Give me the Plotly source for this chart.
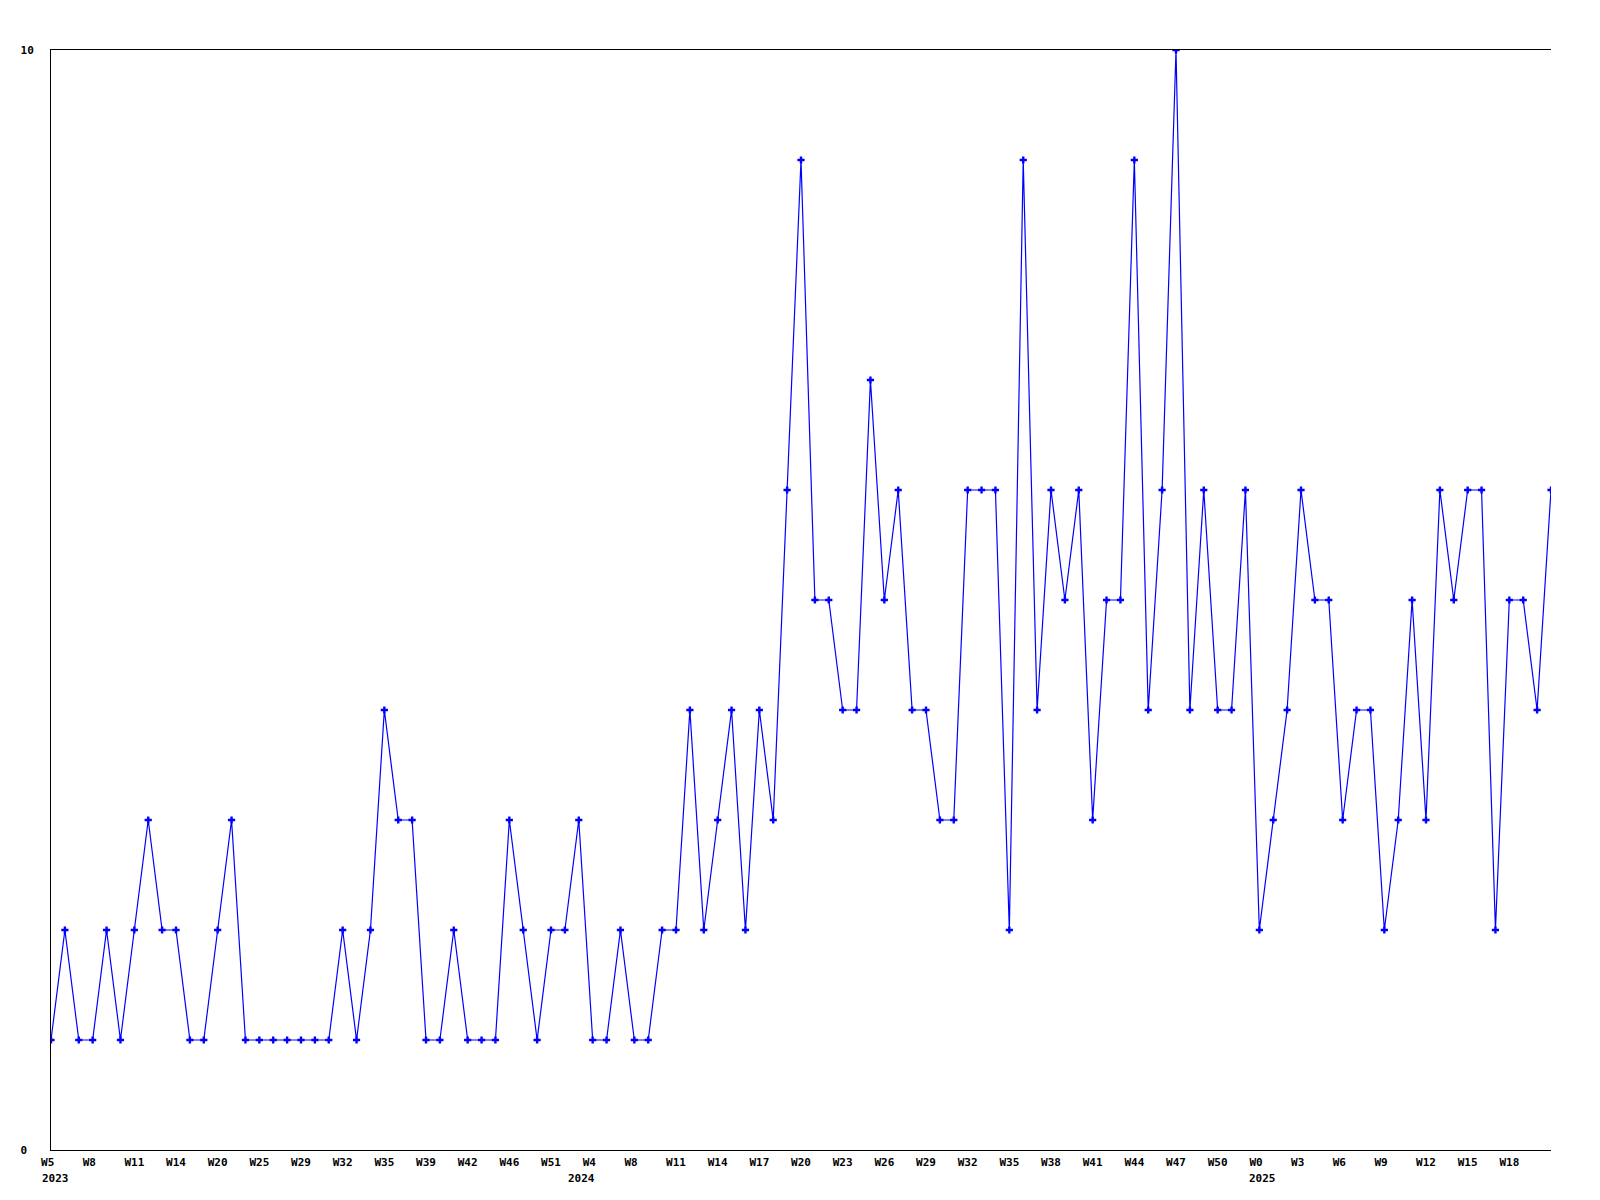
import plotly.graph_objects as go

values = [1, 2, 1, 1, 2, 1, 2, 3, 2, 2, 1, 1, 2, 3, 1, 1, 1, 1, 1, 1,
          1, 2, 1, 2, 4, 3, 3, 1, 1, 2, 1, 1, 1, 3, 2, 1, 2, 2, 3, 1,
          1, 2, 1, 1, 2, 2, 4, 2, 3, 4, 2, 4, 3, 6, 9, 5, 5, 4, 4, 7,
          5, 6, 4, 4, 3, 3, 6, 6, 6, 2, 9, 4, 6, 5, 6, 3, 5, 5, 9, 4,
          6, 10, 4, 6, 4, 4, 6, 2, 3, 4, 6, 5, 5, 3, 4, 4, 2, 3, 5, 3,
          6, 5, 6, 6, 2, 5, 5, 4, 6]

tick_labels = ["W5", "W8", "W11", "W14", "W20", "W25", "W29", "W32", "W35", "W39",
               "W42", "W46", "W51", "W4", "W8", "W11", "W14", "W17", "W20", "W23",
               "W26", "W29", "W32", "W35", "W38", "W41", "W44", "W47", "W50", "W0",
               "W3", "W6", "W9", "W12", "W15", "W18"]
tick_step = 3

year_labels = ["2023", "2024", "2025"]
year_tick_index = [0, 13, 29]  # index into tick_labels where each year starts
year_xshift = [-11, -27, -12]

y_ticks = [0, 10]

FONT = "DejaVu Sans Mono"
x = list(range(len(values)))
tickvals = [i * tick_step for i in range(len(tick_labels))]
ticktext = [t.ljust(3).replace(" ", "\u00a0") for t in tick_labels]

fig = go.Figure()
fig.add_trace(go.Scatter(
    x=x, y=values, mode="lines+markers",
    line=dict(color="#0000ff", width=1.2),
    marker=dict(symbol="cross", size=6, color="#0000ff", line=dict(width=0)),
    hoverinfo="skip", showlegend=False,
))

for yl, ti, xs in zip(year_labels, year_tick_index, year_xshift):
    fig.add_annotation(
        x=tickvals[ti], y=0, xref="x", yref="paper",
        text=yl, showarrow=False, xanchor="left", yanchor="top",
        xshift=xs, yshift=-20,
        font=dict(family=FONT, size=11, color="black", weight="bold"),
    )

fig.update_layout(
    width=1600, height=1200,
    margin=dict(l=51, r=49, t=50, b=50),
    paper_bgcolor="white", plot_bgcolor="white",
    showlegend=False,
)
fig.update_xaxes(
    range=[0, len(values) - 1], tickvals=tickvals, ticktext=ticktext,
    showgrid=False, zeroline=False, showline=True, linecolor="black",
    linewidth=1, mirror=True, ticks="", tickangle=0, ticklabelstandoff=2,
    tickfont=dict(family=FONT, size=11, color="black", weight="bold"),
)
fig.update_yaxes(
    range=[0, 10], tickvals=y_ticks,
    ticktext=[str(v).ljust(2).replace(" ", "\u00a0") for v in y_ticks],
    showgrid=False, zeroline=False, showline=True, linecolor="black",
    linewidth=1, ticks="", ticklabelstandoff=14,
    tickfont=dict(family=FONT, size=11, color="black", weight="bold"),
)

fig.write_html(
    "out.html",
    config={"displayModeBar": False, "staticPlot": True},
    post_script="document.body.style.margin='0';document.body.style.padding='0';",
)
